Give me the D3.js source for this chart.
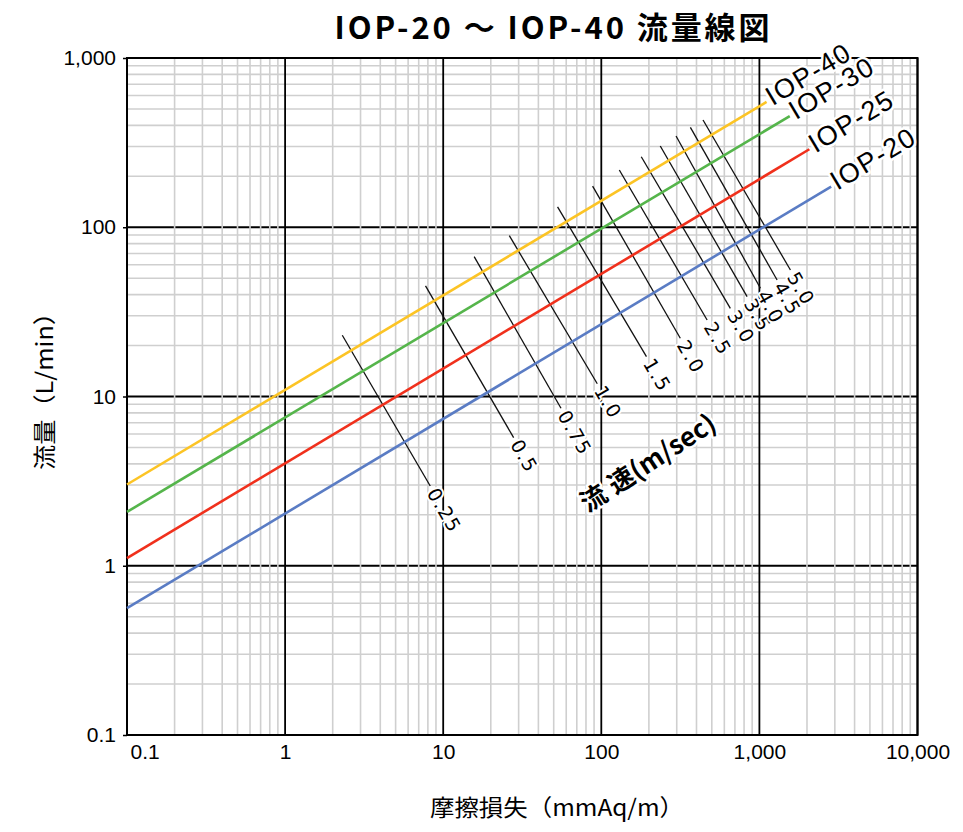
<!DOCTYPE html>
<html><head><meta charset="utf-8">
<script src="https://cdn.jsdelivr.net/npm/d3@7"></script>
<style>body{margin:0;background:#fff}</style>
</head><body><svg id="c" width="963" height="832"></svg>
<script>
// ---- data ----
const xTicks = [0.1, 1, 10, 100, 1000, 10000];
const xTickLabels = ["0.1", "1", "10", "100", "1,000", "10,000"];
const yTicks = [0.1, 1, 10, 100, 1000];
const yTickLabels = ["0.1", "1", "10", "100", "1,000"];

const pipeNames = ["IOP-40", "IOP-30", "IOP-25", "IOP-20"];
const pipeColors = ["#fcc425", "#55b54b", "#f0301c", "#5a7cc4"];
const pipeStartLoss = [0.1, 0.1, 0.1, 0.1];
const pipeStartFlow = [3.02, 2.08, 1.11, 0.561];
const pipeEndLoss = [1110, 1556, 2070, 2844];
const pipeEndFlow = [550, 454, 289, 174];

const velocities = ["0.25", "0.5", "0.75", "1.0", "1.5", "2.0", "2.5", "3.0", "3.5", "4.0", "4.5", "5.0"];
const velStartLoss = [2.30, 7.73, 15.7, 26.2, 52.9, 88.1, 130, 179, 236, 297, 366, 440];
const velStartFlow = [23.0, 45.0, 67.0, 89.2, 132, 175, 218, 261, 302, 346, 389, 430];
const velEndLoss = [8.28, 27.9, 55.6, 94.3, 193, 316, 467, 655, 836, 1015, 1294, 1571];
const velEndFlow = [2.96, 5.71, 8.52, 11.9, 17.2, 22.1, 28.3, 33.2, 38.9, 43.6, 48.8, 55.9];

const titleText = "IOP-20 ～ IOP-40 流量線図";
const xTitle = "摩擦損失（mmAq/m）";
const yTitle = "流量（L/min）";

// ---- chart ----
const svg = d3.select("#c");
const x = d3.scaleLog().domain([0.1, 10000]).range([127, 917.5]);
const y = d3.scaleLog().domain([0.1, 1000]).range([735, 58]);
const X0 = x.range()[0], X1 = x.range()[1], Y0 = y.range()[1], Y1 = y.range()[0];

const minorX = x.ticks().filter(v => !xTicks.some(t => Math.abs(t - v) / t < 1e-9));
const minorY = y.ticks().filter(v => !yTicks.some(t => Math.abs(t - v) / t < 1e-9));

const grid = svg.append("g");
grid.selectAll(".hmaj").data(yTicks).join("line")
  .attr("x1", X0).attr("x2", X1).attr("y1", d => y(d)).attr("y2", d => y(d))
  .attr("stroke", "#000").attr("stroke-width", 1.8);
grid.selectAll(".vmin").data(minorX).join("line")
  .attr("x1", d => x(d)).attr("x2", d => x(d)).attr("y1", Y0).attr("y2", Y1)
  .attr("stroke", "#cfcfcf").attr("stroke-width", 1.6);
grid.selectAll(".hmin").data(minorY).join("line")
  .attr("y1", d => y(d)).attr("y2", d => y(d)).attr("x1", X0).attr("x2", X1)
  .attr("stroke", "#cfcfcf").attr("stroke-width", 1.6);
grid.selectAll(".vmaj").data(xTicks).join("line")
  .attr("x1", d => x(d)).attr("x2", d => x(d)).attr("y1", Y0).attr("y2", Y1)
  .attr("stroke", "#000").attr("stroke-width", 1.8);
svg.append("rect").attr("x", X0).attr("y", Y0).attr("width", X1 - X0).attr("height", Y1 - Y0)
  .attr("fill", "none").attr("stroke", "#000").attr("stroke-width", 2);

// axes
const yAxis = svg.append("g").attr("transform", `translate(${X0},0)`)
  .call(d3.axisLeft(y).tickValues(yTicks).tickFormat((d, i) => yTickLabels[i]).tickSize(4).tickPadding(7));
yAxis.select(".domain").remove();
yAxis.selectAll("line").attr("stroke", "#000").attr("stroke-width", 1.5);
yAxis.selectAll("text").attr("font-family", "Liberation Sans, Arial, sans-serif").attr("font-size", 21).attr("fill", "#000");

const xAxis = svg.append("g").attr("transform", `translate(0,${Y1})`)
  .call(d3.axisBottom(x).tickValues(xTicks).tickFormat((d, i) => xTickLabels[i]).tickSize(0).tickPadding(9));
xAxis.select(".domain").remove();
xAxis.selectAll("text").attr("font-family", "Liberation Sans, Arial, sans-serif").attr("font-size", 21).attr("fill", "#000");
xAxis.selectAll("text").filter((d, i) => i === 0).attr("text-anchor", "start").attr("x", 3);

// velocity lines
const vel = velocities.map((v, i) => ({
  v, x1: x(velStartLoss[i]), y1: y(velStartFlow[i]), x2: x(velEndLoss[i]), y2: y(velEndFlow[i])
}));
svg.append("g").selectAll("line").data(vel).join("line")
  .attr("x1", d => d.x1).attr("y1", d => d.y1).attr("x2", d => d.x2).attr("y2", d => d.y2)
  .attr("stroke", "#111").attr("stroke-width", 1.3);

// pipe lines
const pipes = pipeNames.map((n, i) => ({
  n, c: pipeColors[i], x1: x(pipeStartLoss[i]), y1: y(pipeStartFlow[i]), x2: x(pipeEndLoss[i]), y2: y(pipeEndFlow[i])
}));
svg.append("g").selectAll("line").data(pipes).join("line")
  .attr("x1", d => d.x1).attr("y1", d => d.y1).attr("x2", d => d.x2).attr("y2", d => d.y2)
  .attr("stroke", d => d.c).attr("stroke-width", 2.6);

// velocity labels
svg.append("g").selectAll("text").data(vel).join("text")
  .attr("transform", d => {
    const a = Math.atan2(d.y2 - d.y1, d.x2 - d.x1);
    const px = d.x2 + 4 * Math.cos(a), py = d.y2 + 4 * Math.sin(a);
    return `translate(${px},${py}) rotate(${a * 180 / Math.PI})`;
  })
  .attr("dy", "0.36em").attr("text-anchor", "start")
  .attr("font-family", "DejaVu Sans, sans-serif").attr("font-size", 19).attr("letter-spacing", 1.5)
  .attr("fill", "#000").attr("stroke", "#fff").attr("stroke-width", 4).attr("paint-order", "stroke")
  .attr("stroke-linejoin", "round")
  .text(d => d.v);

// pipe labels
svg.append("g").selectAll("text").data(pipes).join("text")
  .attr("transform", d => {
    const a = Math.atan2(d.y2 - d.y1, d.x2 - d.x1);
    const px = d.x2 + 3 * Math.cos(a), py = d.y2 + 3 * Math.sin(a);
    return `translate(${px},${py}) rotate(${a * 180 / Math.PI})`;
  })
  .attr("dy", "0.25em").attr("text-anchor", "start")
  .attr("font-family", "Liberation Sans, Arial, sans-serif").attr("font-size", 27).attr("letter-spacing", 1.5)
  .attr("fill", "#000").attr("stroke", "#fff").attr("stroke-width", 5).attr("paint-order", "stroke")
  .attr("stroke-linejoin", "round")
  .text(d => d.n);

// flow velocity label
const fl = svg.append("text")
  .attr("transform", "translate(648,463) rotate(-33)")
  .attr("text-anchor", "middle").attr("dy", "0.35em")
  .attr("font-family", "Noto Sans CJK JP, sans-serif").attr("font-weight", "bold").attr("font-size", 26)
  .attr("fill", "#000").attr("stroke", "#fff").attr("stroke-width", 5).attr("paint-order", "stroke")
  .attr("stroke-linejoin", "round");
fl.append("tspan").text("流");
fl.append("tspan").attr("dx", 7).text("速(m/sec)");

// titles
svg.append("text").attr("x", 552).attr("y", 28).attr("dy", "0.35em").attr("text-anchor", "middle")
  .attr("font-family", "Noto Sans CJK JP, sans-serif").attr("font-weight", "bold").attr("font-size", 31)
  .attr("textLength", 435).attr("lengthAdjust", "spacing")
  .text(titleText);
svg.append("text").attr("x", 557).attr("y", 808).attr("dy", "0.35em").attr("text-anchor", "middle")
  .attr("font-family", "Noto Sans CJK JP, sans-serif").attr("font-size", 23)
  .attr("textLength", 254).attr("lengthAdjust", "spacingAndGlyphs")
  .text(xTitle);
svg.append("text").attr("transform", "translate(45,385) rotate(-90)").attr("dy", "0.35em").attr("text-anchor", "middle")
  .attr("font-family", "Noto Sans CJK JP, sans-serif").attr("font-size", 23)
  .attr("textLength", 170).attr("lengthAdjust", "spacingAndGlyphs")
  .text(yTitle);
</script>
</body></html>
